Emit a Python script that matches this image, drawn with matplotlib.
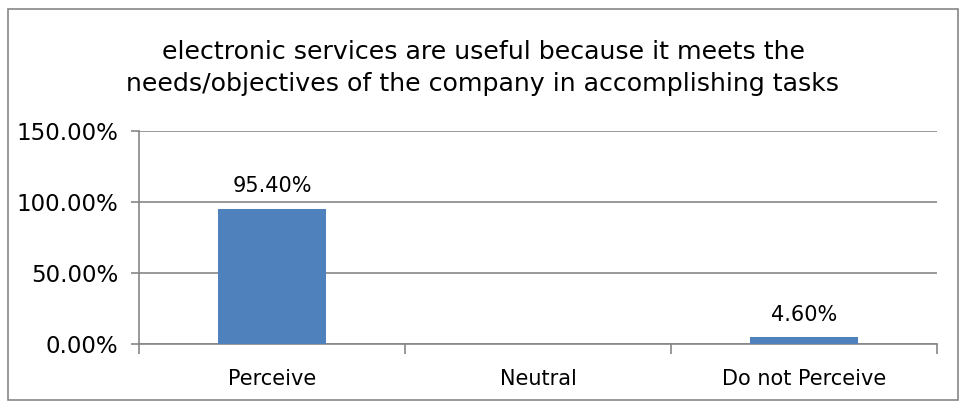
import matplotlib
matplotlib.use("Agg")
import matplotlib.pyplot as plt
from matplotlib.patches import Rectangle
from matplotlib.ticker import FixedLocator

categories = ["Perceive", "Neutral", "Do not Perceive"]
shares = [95.40, 0.0, 4.60]
bar_labels = ["95.40%", None, "4.60%"]
y_ticks = [0, 50, 100, 150]
y_tick_labels = ["0.00%", "50.00%", "100.00%", "150.00%"]
title = ("electronic services are useful because it meets the\n"
         "needs/objectives of the company in accomplishing tasks")

GRID = "#868686"
BAR = "#4F81BD"
NARROW = ["Liberation Sans Narrow", "DejaVu Sans Condensed", "DejaVu Sans"]

fig = plt.figure(figsize=(9.66, 4.09), dpi=100)
ax = fig.add_axes([139 / 966, 65 / 409, 798 / 966, 213 / 409])

x = list(range(len(categories)))
ax.bar(x, shares, width=0.405, color=BAR, zorder=3)
for xi, v, lab in zip(x, shares, bar_labels):
    if lab:
        ax.text(xi, v + 9, lab, ha="center", va="bottom", fontsize=15,
                family=NARROW, color="black")

ax.set_xlim(-0.5, 2.5)
ax.set_ylim(0, 150)
ax.set_yticks(y_ticks)
ax.set_yticklabels(y_tick_labels, fontsize=16.5, family="DejaVu Sans")
ax.set_xticks(x)
ax.set_xticklabels(categories, fontsize=15, family=NARROW)
ax.tick_params(axis="x", length=0, pad=18)
ax.xaxis.set_minor_locator(FixedLocator([-0.5, 0.5, 1.5, 2.5]))
ax.tick_params(axis="x", which="minor", length=7, color=GRID, width=1.2)
ax.tick_params(axis="y", length=6, color=GRID, width=1.2, pad=9)

ax.grid(axis="y", color=GRID, linewidth=1.2, zorder=0)
for side in ["top", "right"]:
    ax.spines[side].set_visible(False)
for side in ["left", "bottom"]:
    ax.spines[side].set_color(GRID)
    ax.spines[side].set_linewidth(1.2)

fig.text(0.5, 1 - 68 / 409, title, ha="center", va="center", fontsize=18.2,
         family=NARROW, linespacing=1.45)

# chart frame
fig.add_artist(Rectangle((8 / 966, 9 / 409), 950 / 966, 391 / 409,
                         transform=fig.transFigure, fill=False,
                         edgecolor=GRID, linewidth=1.2))

fig.savefig("out.png", dpi=100)
